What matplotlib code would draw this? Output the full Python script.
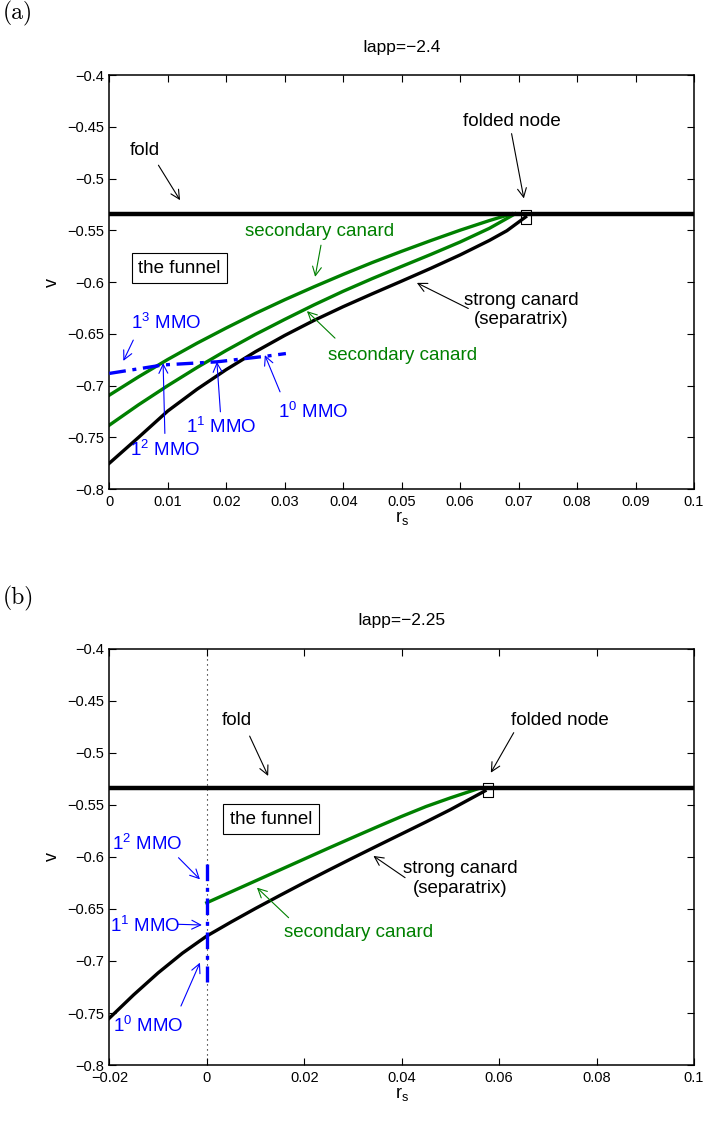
import matplotlib
matplotlib.use("Agg")
import matplotlib.pyplot as plt

plt.rcParams['font.family'] = ['Liberation Sans Narrow', 'Liberation Sans', 'DejaVu Sans']
plt.rcParams['axes.unicode_minus'] = True
plt.rcParams['lines.solid_joinstyle'] = 'round'

GREEN = '#008000'
BLUE = '#0000ff'

# ---------------- panel (a): Iapp = -2.4 ----------------
fold_a = -0.534
node_a = (0.0713, -0.5367)

strong_a_r = [0.0, 0.005, 0.01, 0.015, 0.02, 0.025, 0.03, 0.035, 0.04, 0.045, 0.05, 0.055,
              0.06, 0.065, 0.068, 0.0712]
strong_a_v = [-0.775, -0.750, -0.7245, -0.7035, -0.6845, -0.6672, -0.6515, -0.637, -0.6237,
              -0.6112, -0.599, -0.5866, -0.5737, -0.5597, -0.5503, -0.537]

sec1_a_r = [0.0, 0.005, 0.01, 0.015, 0.02, 0.025, 0.03, 0.035, 0.04, 0.045, 0.05, 0.055, 0.06, 0.065, 0.0688]
sec1_a_v = [-0.7092, -0.6915, -0.6747, -0.659, -0.6443, -0.6302, -0.617, -0.6045, -0.5925,
            -0.581, -0.5702, -0.5598, -0.5498, -0.5405, -0.534]

sec2_a_r = [0.0, 0.005, 0.01, 0.015, 0.02, 0.025, 0.03, 0.035, 0.04, 0.045, 0.05, 0.055, 0.06, 0.065, 0.0694]
sec2_a_v = [-0.7382, -0.7185, -0.700, -0.6825, -0.666, -0.6505, -0.636, -0.622, -0.6088,
            -0.5965, -0.5848, -0.5732, -0.5612, -0.548, -0.534]

mmo_a_r = [0.0, 0.0092, 0.0184, 0.0269, 0.0302]
mmo_a_v = [-0.6882, -0.680, -0.677, -0.6715, -0.669]

xticks_a = [0, 0.01, 0.02, 0.03, 0.04, 0.05, 0.06, 0.07, 0.08, 0.09, 0.1]
xticklabels_a = ['0', '0.01', '0.02', '0.03', '0.04', '0.05', '0.06', '0.07', '0.08', '0.09', '0.1']

# ---------------- panel (b): Iapp = -2.25 ----------------
fold_b = -0.534
node_b = (0.0578, -0.5359)

strong_b_r = [-0.02, -0.015, -0.01, -0.005, 0.0, 0.005, 0.01, 0.015, 0.02, 0.025, 0.03,
              0.035, 0.04, 0.045, 0.05, 0.0571]
strong_b_v = [-0.755, -0.7325, -0.7115, -0.6925, -0.676, -0.6625, -0.6495, -0.637, -0.6247,
              -0.6127, -0.6009, -0.5893, -0.5778, -0.5663, -0.5545, -0.5365]

sec_b_r = [0.0, 0.005, 0.01, 0.015, 0.02, 0.025, 0.03, 0.035, 0.04, 0.045, 0.05, 0.0556]
sec_b_v = [-0.644, -0.6335, -0.623, -0.6125, -0.602, -0.5915, -0.5812, -0.571, -0.561,
           -0.5515, -0.5432, -0.5345]

mmo_b_r = [0.0, 0.0]
mmo_b_v = [-0.607, -0.72]

xticks_b = [-0.02, 0, 0.02, 0.04, 0.06, 0.08, 0.1]
xticklabels_b = ['-0.02', '0', '0.02', '0.04', '0.06', '0.08', '0.1']

yticks = [-0.8, -0.75, -0.7, -0.65, -0.6, -0.55, -0.5, -0.45, -0.4]
yticklabels = ['-0.8', '-0.75', '-0.7', '-0.65', '-0.6', '-0.55', '-0.5', '-0.45', '-0.4']

TXT = 13.5
NODE_MARKER = [(-1, -1.5), (1, -1.5), (1, 1.5), (-1, 1.5), (-1, -1.5)]


def minus(s):
    return s.replace('-', '\u2212')


def style_axes(ax, xlim, xticks, xticklabels, title):
    ax.set_xlim(*xlim)
    ax.set_ylim(-0.8, -0.4)
    ax.set_xticks(xticks)
    ax.set_xticklabels([minus(t) for t in xticklabels])
    ax.set_yticks(yticks)
    ax.set_yticklabels([minus(t) for t in yticklabels])
    ax.tick_params(direction='in', length=5, width=0.8, top=True, right=True,
                   labelsize=10.5, pad=4)
    for sp in ax.spines.values():
        sp.set_linewidth(1.1)
    ax.set_title(minus(title), fontsize=12.5, pad=17)
    ax.set_xlabel(r'$\mathregular{r_s}$', fontsize=13, labelpad=0)
    ax.set_ylabel('v', fontsize=13, labelpad=4)


def arrow(ax, tail, head, color, lw=0.8):
    ax.annotate('', xy=head, xytext=tail,
                arrowprops=dict(arrowstyle='->', color=color, lw=lw,
                                shrinkA=0, shrinkB=0, mutation_scale=16))


def label(ax, x, y, s, color='black', box=False, size=TXT):
    kw = dict(ha='center', va='center', fontsize=size, color=color)
    if box:
        kw['bbox'] = dict(boxstyle='square,pad=0.35', fc='white', ec='black', lw=0.8)
    ax.text(x, y, s, **kw)


fig = plt.figure(figsize=(7.03, 11.27), dpi=100)
ax_a = fig.add_axes([0.1555, 0.566, 0.8317, 0.3673])
ax_b = fig.add_axes([0.1555, 0.055, 0.8317, 0.3692])

# ---------- draw (a) ----------
ax = ax_a
style_axes(ax, (0, 0.1), xticks_a, xticklabels_a, 'Iapp=-2.4')
ax.axhline(fold_a, color='black', lw=3.2, zorder=3)
ax.plot(sec1_a_r, sec1_a_v, color=GREEN, lw=2.4, zorder=2)
ax.plot(sec2_a_r, sec2_a_v, color=GREEN, lw=2.4, zorder=2)
ax.plot(strong_a_r, strong_a_v, color='black', lw=2.4, zorder=2)
ax.plot(mmo_a_r, mmo_a_v, color=BLUE, lw=2.4, ls=(0, (5, 2, 1.2, 2)), zorder=4)
ax.plot(*node_a, marker=NODE_MARKER, ms=10.5, mfc='none', mec='black', mew=0.8, zorder=5)

label(ax, 0.0061, -0.4732, 'fold')
arrow(ax, (0.0084, -0.487), (0.0121, -0.5208), 'black')
label(ax, 0.0688, -0.4451, 'folded node')
arrow(ax, (0.0688, -0.4565), (0.0709, -0.5191), 'black')
label(ax, 0.012, -0.5866, 'the funnel', box=True)
label(ax, 0.0705, -0.627, 'strong canard\n(separatrix)')
arrow(ax, (0.0614, -0.6255), (0.0526, -0.6007), 'black')
label(ax, 0.036, -0.5514, 'secondary canard', color=GREEN)
arrow(ax, (0.0362, -0.5643), (0.0352, -0.5949), GREEN)
label(ax, 0.0502, -0.6705, 'secondary canard', color=GREEN)
arrow(ax, (0.0386, -0.6541), (0.0338, -0.628), GREEN)

label(ax, 0.0098, -0.6399, r'$\mathregular{1^3}$ MMO', color=BLUE)
arrow(ax, (0.0041, -0.656), (0.0024, -0.6761), BLUE)
label(ax, 0.0095, -0.7623, r'$\mathregular{1^2}$ MMO', color=BLUE)
arrow(ax, (0.0095, -0.7462), (0.0092, -0.6783), BLUE)
label(ax, 0.0192, -0.7397, r'$\mathregular{1^1}$ MMO', color=BLUE)
arrow(ax, (0.019, -0.7253), (0.0184, -0.6771), BLUE)
label(ax, 0.0349, -0.7253, r'$\mathregular{1^0}$ MMO', color=BLUE)
arrow(ax, (0.0292, -0.706), (0.0266, -0.6705), BLUE)

# ---------- draw (b) ----------
ax = ax_b
style_axes(ax, (-0.02, 0.1), xticks_b, xticklabels_b, 'Iapp=-2.25')
ax.axvline(0, color='black', lw=0.8, ls=(0, (1, 3.5)), zorder=1)
ax.axhline(fold_b, color='black', lw=3.2, zorder=3)
ax.plot(sec_b_r, sec_b_v, color=GREEN, lw=2.4, zorder=2)
ax.plot(strong_b_r, strong_b_v, color='black', lw=2.4, zorder=2)
ax.plot(mmo_b_r, mmo_b_v, color=BLUE, lw=2.4, ls=(0, (5, 2, 1.2, 2)), zorder=4)
ax.plot(*node_b, marker=NODE_MARKER, ms=10.5, mfc='none', mec='black', mew=0.8, zorder=5)

label(ax, 0.0062, -0.4686, 'fold')
arrow(ax, (0.0088, -0.4838), (0.0126, -0.5221), 'black')
label(ax, 0.0724, -0.4686, 'folded node')
arrow(ax, (0.063, -0.4805), (0.0583, -0.519), 'black')
label(ax, 0.0132, -0.5635, 'the funnel', box=True)
label(ax, 0.052, -0.6207, 'strong canard\n(separatrix)')
arrow(ax, (0.0407, -0.6199), (0.0342, -0.599), 'black')
label(ax, 0.0312, -0.6728, 'secondary canard', color=GREEN)
arrow(ax, (0.0168, -0.6584), (0.0103, -0.6295), GREEN)

label(ax, -0.0123, -0.5878, r'$\mathregular{1^2}$ MMO', color=BLUE)
arrow(ax, (-0.0058, -0.6007), (-0.0014, -0.6215), BLUE)
label(ax, -0.0127, -0.6663, r'$\mathregular{1^1}$ MMO', color=BLUE)
arrow(ax, (-0.006, -0.6647), (-0.001, -0.6654), BLUE)
label(ax, -0.012, -0.7625, r'$\mathregular{1^0}$ MMO', color=BLUE)
arrow(ax, (-0.0053, -0.7433), (-0.0014, -0.7016), BLUE)

# panel tags
fig.text(0.004, 0.999, '(a)', fontsize=17, family='cmr10', ha='left', va='top')
fig.text(0.004, 0.480, '(b)', fontsize=17, family='cmr10', ha='left', va='top')

fig.savefig('out.png', dpi=100)
